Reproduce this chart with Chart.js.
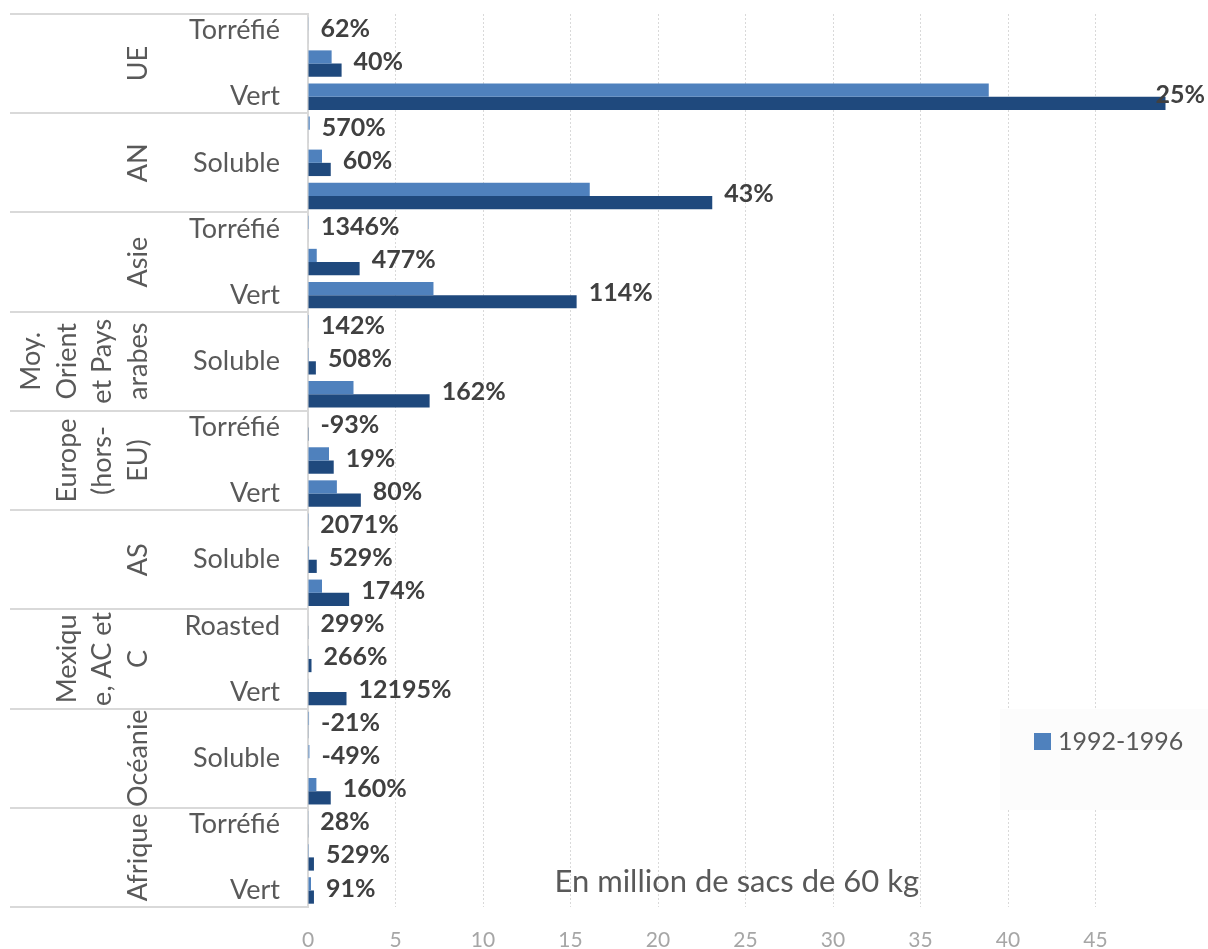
<!DOCTYPE html>
<html>
<head>
<meta charset="utf-8">
<script src="https://cdn.jsdelivr.net/npm/chart.js@4"></script>
<style>
html,body{margin:0;padding:0;background:#fff;}
#wrap{width:1208px;height:949px;position:relative;}
</style>
</head>
<body>
<div id="wrap"><canvas id="c"></canvas></div>
<script>
// ---- data ----
const regions = ["UE","AN","Asie","Moy. Orient et Pays arabes","Europe (hors-EU)","AS","Mexique, AC et C","Océanie","Afrique"];
const regionLines = [["UE"],["AN"],["Asie"],["Moy.","Orient","et Pays","arabes"],["Europe","(hors-","EU)"],["AS"],["Mexiqu","e, AC et","C"],["Océanie"],["Afrique"]];
const rowLabels = [
  "Torréfié","Soluble","Vert",
  "Torréfié","Soluble","Vert",
  "Torréfié","Soluble","Vert",
  "Torréfié","Soluble","Vert",
  "Torréfié","Soluble","Vert",
  "Torréfié","Soluble","Vert",
  "Roasted","Soluble","Vert",
  "Torréfié","Soluble","Vert",
  "Torréfié","Soluble","Vert"
];
const seriesNames = ["1992-1996","2012-2016"];
const values1992 = [
  0.02, 1.35, 38.9,
  0.10, 0.8, 16.1,
  0.05, 0.5, 7.17,
  0.05, 0.05, 2.6,
  0.03, 1.2, 1.65,
  0.01, 0.06, 0.8,
  0.03, 0.04, 0.02,
  0.06, 0.08, 0.48,
  0.02, 0.05, 0.17
];
const values2012 = [
  0.03, 1.92, 49.0,
  0.03, 1.3, 23.1,
  0.03, 2.95, 15.35,
  0.02, 0.45, 6.95,
  0.01, 1.47, 3.02,
  0.02, 0.5, 2.35,
  0.02, 0.2, 2.2,
  0.02, 0.03, 1.3,
  0.02, 0.34, 0.34
];
const growthLabels = ["62%","40%","25%","570%","60%","43%","1346%","477%","114%","142%","508%","162%","-93%","19%","80%","2071%","529%","174%","299%","266%","12195%","-21%","-49%","160%","28%","529%","91%"];
const xMin = 0, xMax = 50, xStep = 5, xLastLabel = 45;
const axisTitle = "En million de sacs de 60 kg";

const FONT = "Lato";

const groupPlugin = {
  id: 'groups',
  afterDraw(chart) {
    const ctx = chart.ctx;
    const ca = chart.chartArea;
    const n = rowLabels.length;
    const rowH = (ca.bottom - ca.top) / n;
    const per = n / regions.length;
    ctx.save();
    // group separator lines
    ctx.strokeStyle = '#d9d9d9';
    ctx.lineWidth = 2;
    for (let j = 0; j <= regions.length; j++) {
      const y = Math.round(ca.top + j * per * rowH);
      ctx.beginPath();
      ctx.moveTo(10, y);
      ctx.lineTo(ca.left - 1, y);
      ctx.stroke();
    }
    // region labels (rotated)
    ctx.fillStyle = '#595959';
    ctx.font = '27px ' + FONT;
    ctx.textAlign = 'center';
    ctx.textBaseline = 'middle';
    const lastX = 138, lineGap = 35.5;
    regionLines.forEach((lines, j) => {
      const yc = ca.top + (j + 0.5) * per * rowH;
      lines.forEach((t, k) => {
        const x = lastX - (lines.length - 1 - k) * lineGap;
        ctx.save();
        ctx.translate(x, yc);
        ctx.rotate(-Math.PI / 2);
        ctx.fillText(t, 0, 0);
        ctx.restore();
      });
    });
    // data labels
    const m0 = chart.getDatasetMeta(0), m1 = chart.getDatasetMeta(1);
    const ys = chart.scales.y;
    ctx.font = 'bold 25px ' + FONT;
    ctx.fillStyle = '#404040';
    ctx.textAlign = 'left';
    growthLabels.forEach((t, i) => {
      const xe = Math.max(m0.data[i].x, m1.data[i].x);
      const w = ctx.measureText(t).width;
      let x = xe + 12;
      if (x + w > chart.width - 3) x = chart.width - 3 - w;
      const y = ys.getPixelForValue(i) - 2;
      ctx.fillText(t, x, y);
    });
    // axis title text
    ctx.font = '31px ' + FONT;
    ctx.fillStyle = '#595959';
    ctx.textAlign = 'center';
    ctx.fillText(axisTitle, ca.left + (ca.right - ca.left) * 0.49, ca.bottom - 25);
    // legend
    const lx = 1000, ly = ca.bottom - 198;
    ctx.fillStyle = '#fcfcfc';
    ctx.fillRect(lx, ly, 230, 101);
    const ds = chart.data.datasets[0];
    ctx.fillStyle = ds.backgroundColor;
    ctx.fillRect(lx + 34, ly + 24, 17, 17);
    ctx.font = '25px ' + FONT;
    ctx.fillStyle = '#595959';
    ctx.textAlign = 'left';
    ctx.fillText(ds.label, lx + 58, ly + 33);
    ctx.restore();
  }
};

new Chart(document.getElementById('c'), {
  type: 'bar',
  data: {
    labels: rowLabels,
    datasets: [
      { label: seriesNames[0], data: values1992, backgroundColor: '#4F81BD', borderWidth: 0 },
      { label: seriesNames[1], data: values2012, backgroundColor: '#1F497D', borderWidth: 0 }
    ]
  },
  options: {
    indexAxis: 'y',
    responsive: true,
    maintainAspectRatio: false,
    animation: false,
    layout: { padding: { left: 10, top: 14, right: 25, bottom: 0 } },
    datasets: { bar: { categoryPercentage: 0.8, barPercentage: 1 } },
    plugins: { legend: { display: false }, tooltip: { enabled: false }, title: { display: false } },
    scales: {
      x: {
        min: xMin, max: xMax,
        afterFit(axis) { axis.height = 42; axis.paddingLeft = 0; axis.paddingRight = 0; },
        ticks: {
          stepSize: xStep,
          padding: 21,
          color: '#a6a6a6',
          font: { family: FONT, size: 21 },
          callback: (v) => (v <= xLastLabel ? v : '')
        },
        grid: {
          drawTicks: false,
          color: (c) => (c.tick && c.tick.value > 0 && c.tick.value <= xLastLabel) ? '#d9d9d9' : 'rgba(0,0,0,0)',
          lineWidth: 1
        },
        border: { display: false, dash: [2, 2] }
      },
      y: {
        afterFit(axis) { axis.width = 298; axis.paddingTop = 0; axis.paddingBottom = 0; },
        ticks: {
          autoSkip: false,
          padding: 28,
          color: '#595959',
          font: { family: FONT, size: 27 },
          callback: (v, i) => (i % 2 === 0 ? rowLabels[i] : '')
        },
        grid: { display: false, drawTicks: false },
        border: { display: true, color: '#d9d9d9', width: 2 }
      }
    }
  },
  plugins: [groupPlugin]
});
</script>
</body>
</html>
